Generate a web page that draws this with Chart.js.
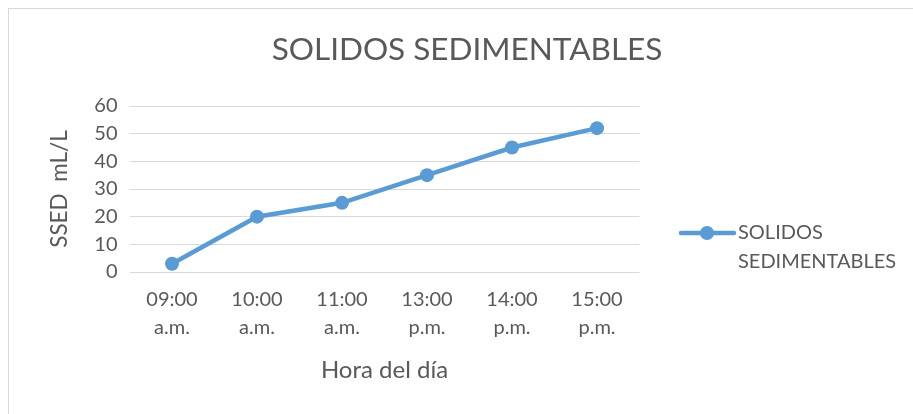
<!DOCTYPE html>
<html>
<head>
<meta charset="utf-8">
<script src="https://cdn.jsdelivr.net/npm/chart.js@4.4.1/dist/chart.umd.min.js"></script>
<style>
    html, body { margin: 0; padding: 0; background: #ffffff; }
    #wrap { position: relative; width: 913px; height: 414px; }
    #frame {
        position: absolute; left: 8px; top: 8px; right: 0; bottom: 0;
        border-top: 1px solid #d9d9d9; border-left: 1px solid #d9d9d9;
    }
    #chartSSED { position: absolute; left: 0; top: 0; }
</style>
</head>
<body>
<div id="wrap">
    <div id="frame"></div>
    <canvas id="chartSSED" width="913" height="414"></canvas>
</div>
<script>
const tituloGrafico = "SOLIDOS SEDIMENTABLES";
const horas = [
    ["09:00", "a.m."],
    ["10:00", "a.m."],
    ["11:00", "a.m."],
    ["13:00", "p.m."],
    ["14:00", "p.m."],
    ["15:00", "p.m."]
];
const solidos = [3, 20, 25, 35, 45, 52];
const leyenda = ["SOLIDOS", "SEDIMENTABLES"];
const tituloY = "SSED  mL/L";
const tituloX = "Hora del día";

const FUENTE = "Lato, 'Liberation Sans', sans-serif";
const GRIS = "#595959";
const AZUL = "#5b9bd5";

// titulo y leyenda dibujados a mano (la leyenda va en dos lineas)
const extras = {
    id: "extras",
    afterDraw(chart) {
        const ctx = chart.ctx;
        ctx.save();
        ctx.fillStyle = GRIS;
        ctx.font = "31.5px " + FUENTE;
        ctx.textAlign = "center";
        ctx.textBaseline = "middle";
        ctx.fillText(tituloGrafico, 467, 50);

        // muestra de la serie
        ctx.strokeStyle = AZUL;
        ctx.lineWidth = 4.5;
        ctx.lineCap = "round";
        ctx.beginPath();
        ctx.moveTo(681, 233);
        ctx.lineTo(734, 233);
        ctx.stroke();
        ctx.fillStyle = AZUL;
        ctx.beginPath();
        ctx.arc(707, 233, 7, 0, Math.PI * 2);
        ctx.fill();

        ctx.fillStyle = GRIS;
        ctx.font = "20px " + FUENTE;
        ctx.textAlign = "left";
        leyenda.forEach((t, i) => {
            ctx.fillText(t, 738, 233 + i * 29);
        });
        ctx.restore();
    }
};

new Chart(
    document.getElementById("chartSSED"),
    {
        type: "line",
        data: {
            labels: horas,
            datasets: [{
                label: leyenda.join(" "),
                data: solidos,
                borderColor: AZUL,
                backgroundColor: AZUL,
                borderWidth: 4.5,
                pointRadius: 7,
                pointHoverRadius: 7,
                pointBorderWidth: 0,
                tension: 0
            }]
        },
        options: {
            responsive: false,
            animation: false,
            events: [],
            layout: {
                padding: { top: 106, right: 273.5, bottom: 0, left: 0 }
            },
            plugins: {
                legend: { display: false },
                title: { display: false },
                tooltip: { enabled: false }
            },
            scales: {
                x: {
                    offset: true,
                    grid: { display: false, drawTicks: false },
                    border: { display: false },
                    ticks: {
                        color: GRIS,
                        padding: 14,
                        maxRotation: 0,
                        autoSkip: false,
                        font: { family: FUENTE, size: 20, lineHeight: 1.4 }
                    },
                    title: {
                        display: true,
                        text: tituloX,
                        color: GRIS,
                        padding: { top: 0, bottom: 29 },
                        font: { family: FUENTE, size: 24, lineHeight: 1.2 }
                    },
                    afterFit(scale) {
                        scale.height = 142;
                    }
                },
                y: {
                    min: 0,
                    max: 60,
                    grid: { color: "#d9d9d9", lineWidth: 1, drawTicks: false },
                    border: { display: false },
                    ticks: {
                        stepSize: 10,
                        color: GRIS,
                        padding: 12,
                        font: { family: FUENTE, size: 20 }
                    },
                    title: {
                        display: true,
                        text: tituloY,
                        color: GRIS,
                        padding: { top: 46, bottom: 0 },
                        font: { family: FUENTE, size: 22.5, lineHeight: 1.2 }
                    },
                    afterFit(scale) {
                        scale.width = 129.5;
                    }
                }
            }
        },
        plugins: [extras]
    }
);
</script>
</body>
</html>
